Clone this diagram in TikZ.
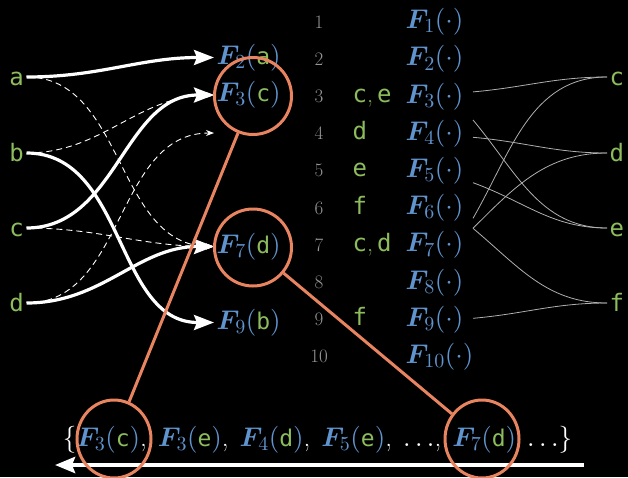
\documentclass[tikz,border=0pt]{standalone}
\usepackage{fontspec}
\usepackage{amsmath}
\usepackage{bm}
\DeclareFontShape{OML}{cmm}{m}{it}{<->cmmi10}{}
\DeclareFontShape{OML}{cmm}{b}{it}{<->cmmib10}{}
\DeclareFontShape{OT1}{cmr}{m}{n}{<->cmr10}{}
\DeclareFontShape{OT1}{cmr}{bx}{n}{<->cmbx10}{}
\DeclareFontShape{OMS}{cmsy}{m}{n}{<->cmsy10}{}
\DeclareFontShape{OMS}{cmsy}{b}{n}{<->cmbsy10}{}
\DeclareMathSizes{27}{27}{20}{14}
\DeclareMathSizes{19}{19}{13.3}{9.5}
\usetikzlibrary{arrows.meta,shapes.geometric,calc}
\newfontfamily\monof{DejaVu Sans Mono}
\definecolor{fblue}{RGB}{96,148,206}
\definecolor{lgreen}{RGB}{140,188,92}
\definecolor{numgray}{RGB}{150,150,150}
\definecolor{linegray}{RGB}{175,175,175}
\definecolor{hlorange}{RGB}{232,132,96}
\newcommand{\Fx}[2]{\textcolor{fblue}{$\bm{F}_{#1}($}\textcolor{lgreen}{\fontsize{23}{27}\monof #2}\textcolor{fblue}{$)$}}
\newcommand{\Fdot}[1]{\textcolor{fblue}{$\bm{F}_{#1}(\cdot)$}}
\newcommand{\wc}{\textcolor{white}{,}\hspace{11pt}}
\newcommand{\gc}{{\rmfamily,}\,}
\begin{document}
\begin{tikzpicture}[x=1pt,y=-1pt,
  every node/.style={font=\fontsize{27}{31}\selectfont, inner sep=2.5pt},
  lett/.style={text=lgreen, font=\fontsize{24}{28}\monof, text height=16pt, text depth=0pt},
  numst/.style={text=numgray, font=\fontsize{19}{22}\selectfont, anchor=base},
  midlet/.style={text=lgreen, font=\fontsize{24}{28}\monof, anchor=base west},
  thickarr/.style={white, line width=3.2pt, -{Stealth[length=20pt,width=15pt,inset=3pt]}},
  dasharr/.style={white, line width=0.9pt, dash pattern=on 6pt off 4pt, -{Stealth[length=8pt,width=6pt]}},
  glink/.style={linegray, line width=0.8pt},
  hlring/.style={draw=hlorange, line width=3pt, inner sep=0pt},
  hlline/.style={hlorange, line width=3pt}]
\fill[black] (0,0) rectangle (628,477);
\useasboundingbox (0,0) rectangle (628,477);

% left letters
\node[lett, anchor=east] (a) at (26.5,77) {a};
\node[lett, anchor=east] (b) at (26.5,153) {b};
\node[lett, anchor=east] (c) at (26.5,228) {c};
\node[lett, anchor=east] (d) at (26.5,303) {d};

% left F labels
\node[anchor=west] (L2) at (214,57.5) {\Fx{2}{a}};
\node[anchor=west] (L3) at (214,95) {\Fx{3}{c}};
\coordinate (L4) at (214,133);
\node[anchor=west] (L7) at (214,246.5) {\Fx{7}{d}};
\node[anchor=west] (L9) at (214,322.5) {\Fx{9}{b}};

% dashed arrows
\draw[dasharr] (a.east) to[out=0,in=180] (L7.west);
\draw[dasharr] (b.east) to[out=0,in=180] (L3.west);
\draw[dasharr] (c.east) to[out=0,in=180] (L7.west);
\draw[dasharr] (d.east) to[out=0,in=180] (L4);

% thick arrows
\draw[thickarr] (a.east) to[out=0,in=180] (L2.west);
\draw[thickarr] (c.east) to[out=0,in=180] (L3.west);
\draw[thickarr] (b.east) to[out=0,in=180] (L9.west);
\draw[thickarr] (d.east) to[out=0,in=180] (L7.west);

% middle column
\foreach \i in {1,...,10} {
  \pgfmathsetmacro\yy{22+(\i-1)*37.2}
  \node[numst] (n\i) at (319,\yy+6) {\i};
  \node[anchor=west] (m\i) at (403,\yy) {\Fdot{\i}};
}
\node[midlet] (g3) at (350,102.4) {c\gc e};
\node[midlet] (g4) at (350,139.6) {d};
\node[midlet] (g5) at (350,176.8) {e};
\node[midlet] (g6) at (350,214) {f};
\node[midlet] (g7) at (350,251.2) {c\gc d};
\node[midlet] (g9) at (350,325.6) {f};

% right letters
\node[lett, anchor=west] (rc) at (607,77) {c};
\node[lett, anchor=west] (rd) at (607,153) {d};
\node[lett, anchor=west] (re) at (607,228) {e};
\node[lett, anchor=west] (rf) at (607,303) {f};

% gray links
\draw[glink] ([xshift=7pt,yshift=4.5pt]m3.east) to[out=5,in=180] (rc.west);
\draw[glink] ([xshift=7pt,yshift=-23.6pt]m3.east) to[out=-50,in=180] (re.west);
\draw[glink] ([xshift=7pt,yshift=-3.7pt]m4.east) to[out=-5,in=180] (rd.west);
\draw[glink] ([xshift=7pt,yshift=-11.9pt]m5.east) to[out=-20,in=180] (re.west);
\draw[glink] ([xshift=7pt,yshift=-10.3pt]m6.east) to[out=60,in=180] (rc.west);
\draw[glink] ([xshift=7pt,yshift=16.9pt]m7.east) to[out=45,in=180] (rd.west);
\draw[glink] ([xshift=7pt,yshift=16.9pt]m7.east) to[out=-40,in=180] (rf.west);
\draw[glink] ([xshift=7pt,yshift=1.3pt]m9.east) to[out=5,in=180] (rf.west);

% bottom set
\node (set) at (317.5,440) {\textcolor{white}{$\{$}\Fx{3}{c}\wc\Fx{3}{e}\wc\Fx{4}{d}\wc\Fx{5}{e}\wc\textcolor{white}{$\ldots$}\wc\Fx{7}{d}\hspace{11pt}\textcolor{white}{$\ldots\}$}};

% bottom arrow
\coordinate (arS) at (584,465);
\coordinate (arE) at (55,465);
\draw[white, line width=4pt, -{Stealth[length=20pt,width=16pt,inset=3pt]}] (arS) -- (arE);

% highlight rings
\node[hlring, circle, minimum size=77pt] (o1) at (253,96) {};
\node[hlring, circle, minimum size=77pt] (o2) at (253,247.5) {};
\node[hlring, ellipse, minimum width=74pt, minimum height=78pt] (o3) at (114,439) {};
\node[hlring, ellipse, minimum width=74pt, minimum height=78pt] (o4) at (482,439) {};
\draw[hlline] (o1) -- (o3);
\draw[hlline] (o2) -- (o4);
\end{tikzpicture}
\end{document}
